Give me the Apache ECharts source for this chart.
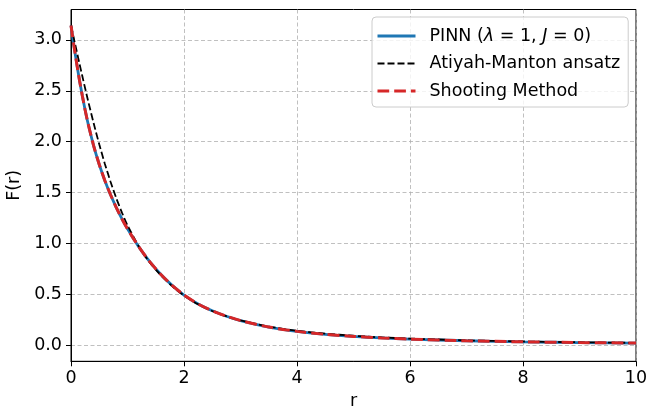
<!DOCTYPE html>
<html>
<head>
<meta charset="utf-8">
<script src="https://cdn.jsdelivr.net/npm/echarts@6/dist/echarts.min.js"></script>
<style>
html,body{margin:0;padding:0;background:#fff;}
#c{width:659px;height:407px;}
</style>
</head>
<body>
<div id="c"></div>
<script>
// radial coordinate r
const rValues = [0, 0.05, 0.1, 0.15, 0.2, 0.25, 0.3, 0.4, 0.5, 0.6, 0.7, 0.8, 0.9, 1.0, 1.2, 1.4, 1.6, 1.8, 2.0, 2.25, 2.5, 2.75, 3.0, 3.5, 4.0, 4.5, 5.0, 5.5, 6.0, 7.0, 8.0, 9.0, 10.0];
// PINN (lambda=1, J=0)
const pinnF = [3.1416, 2.951, 2.772, 2.604, 2.453, 2.312, 2.184, 1.962, 1.776, 1.617, 1.479, 1.356, 1.244, 1.144, 0.967, 0.817, 0.691, 0.584, 0.494, 0.406, 0.339, 0.286, 0.243, 0.179, 0.137, 0.108, 0.0875, 0.0723, 0.0608, 0.0447, 0.0342, 0.027, 0.0219];
// Atiyah-Manton ansatz
const amF = [3.1416, 3.016, 2.891, 2.767, 2.645, 2.526, 2.408, 2.184, 1.975, 1.782, 1.607, 1.448, 1.306, 1.179, 0.972, 0.810, 0.683, 0.577, 0.490, 0.403, 0.337, 0.286, 0.245, 0.184, 0.143, 0.115, 0.094, 0.078, 0.066, 0.049, 0.038, 0.030, 0.024];
// Shooting method
const shootF = [3.1416, 2.951, 2.772, 2.604, 2.453, 2.312, 2.184, 1.962, 1.776, 1.617, 1.479, 1.356, 1.244, 1.144, 0.967, 0.817, 0.691, 0.584, 0.494, 0.406, 0.339, 0.286, 0.243, 0.179, 0.137, 0.108, 0.0875, 0.0723, 0.0608, 0.0447, 0.0342, 0.027, 0.0219];
// tick labels
const xTicks = [0, 2, 4, 6, 8, 10];
const yTicks = [0.0, 0.5, 1.0, 1.5, 2.0, 2.5, 3.0];

const names = ['PINN', 'Atiyah-Manton ansatz', 'Shooting Method'];
const pairs = arr => rValues.map((r, i) => [r, arr[i]]);
const FONT = 'DejaVu Sans';
const FS = 17.5;

const chart = echarts.init(document.getElementById('c'), null, {renderer: 'canvas'});
chart.setOption({
  animation: false,
  backgroundColor: '#fff',
  grid: {left: 71, right: 23, top: 9.5, bottom: 45.7, containLabel: false, outerBoundsMode: 'none',
    show: true, borderColor: '#000', borderWidth: 1, backgroundColor: 'transparent'},
  legend: {
    orient: 'vertical',
    left: 372, top: 17,
    padding: [10, 8, 7, 4],
    itemWidth: 38, itemHeight: 14, itemGap: 9.5,
    backgroundColor: 'rgba(255,255,255,0.8)',
    borderColor: '#cccccc', borderWidth: 1, borderRadius: 4,
    itemStyle: {opacity: 0},
    data: [
      {name: names[0], lineStyle: {width: 2.8}},
      {name: names[1], lineStyle: {width: 1.8}},
      {name: names[2], lineStyle: {width: 3}}
    ],
    formatter: function (n) {
      if (n === 'PINN') return 'PINN ({i|λ} = 1, {i|J} = 0)';
      return n;
    },
    textStyle: {
      fontFamily: FONT, fontSize: FS, color: '#000', padding: [0, 0, 0, 9], lineHeight: 18,
      rich: {i: {fontFamily: FONT, fontSize: FS, fontStyle: 'italic', color: '#000', lineHeight: 18}}
    }
  },
  xAxis: {
    type: 'value', min: 0, max: 10, interval: 2,
    name: 'r', nameLocation: 'middle', nameGap: 28,
    nameTextStyle: {fontFamily: FONT, fontSize: FS, color: '#000'},
    axisLine: {show: true, onZero: false, lineStyle: {color: '#000', width: 1}},
    axisTick: {show: true, inside: false, length: 5, lineStyle: {color: '#000'}},
    axisLabel: {fontFamily: FONT, fontSize: FS, color: '#000', margin: 8,
      formatter: v => xTicks.includes(v) ? String(v) : ''},
    splitLine: {show: true, lineStyle: {color: '#b0b0b0', type: [4, 2.5], width: 0.8}}
  },
  yAxis: {
    type: 'value', min: -0.157, max: 3.299,
    name: 'F(r)', nameLocation: 'middle', nameGap: 35, nameRotate: 90,
    nameTextStyle: {fontFamily: FONT, fontSize: FS, color: '#000'},
    axisLine: {show: true, onZero: false, lineStyle: {color: '#000', width: 1}},
    axisTick: {show: true, inside: false, length: 5, lineStyle: {color: '#000'}, customValues: yTicks},
    axisLabel: {fontFamily: FONT, fontSize: FS, color: '#000', margin: 9, customValues: yTicks,
      formatter: v => v.toFixed(1)},
    splitLine: {show: true, lineStyle: {color: '#b0b0b0', type: [4, 2.5], width: 0.8}}
  },
  series: [
    {name: names[0], type: 'line', data: pairs(pinnF), symbol: 'none', smooth: 0.25,
      lineStyle: {color: '#1f77b4', width: 2.8}, itemStyle: {color: '#1f77b4'}, z: 2},
    {name: names[1], type: 'line', data: pairs(amF), symbol: 'none', smooth: 0.25,
      lineStyle: {color: '#000', width: 1.8, type: [7, 3]}, itemStyle: {color: '#000'}, z: 3},
    {name: names[2], type: 'line', data: pairs(shootF), symbol: 'none', smooth: 0.25,
      lineStyle: {color: '#d62728', width: 3, type: [11.7, 5]}, itemStyle: {color: '#d62728'}, z: 4}
  ]
});
</script>
</body>
</html>
